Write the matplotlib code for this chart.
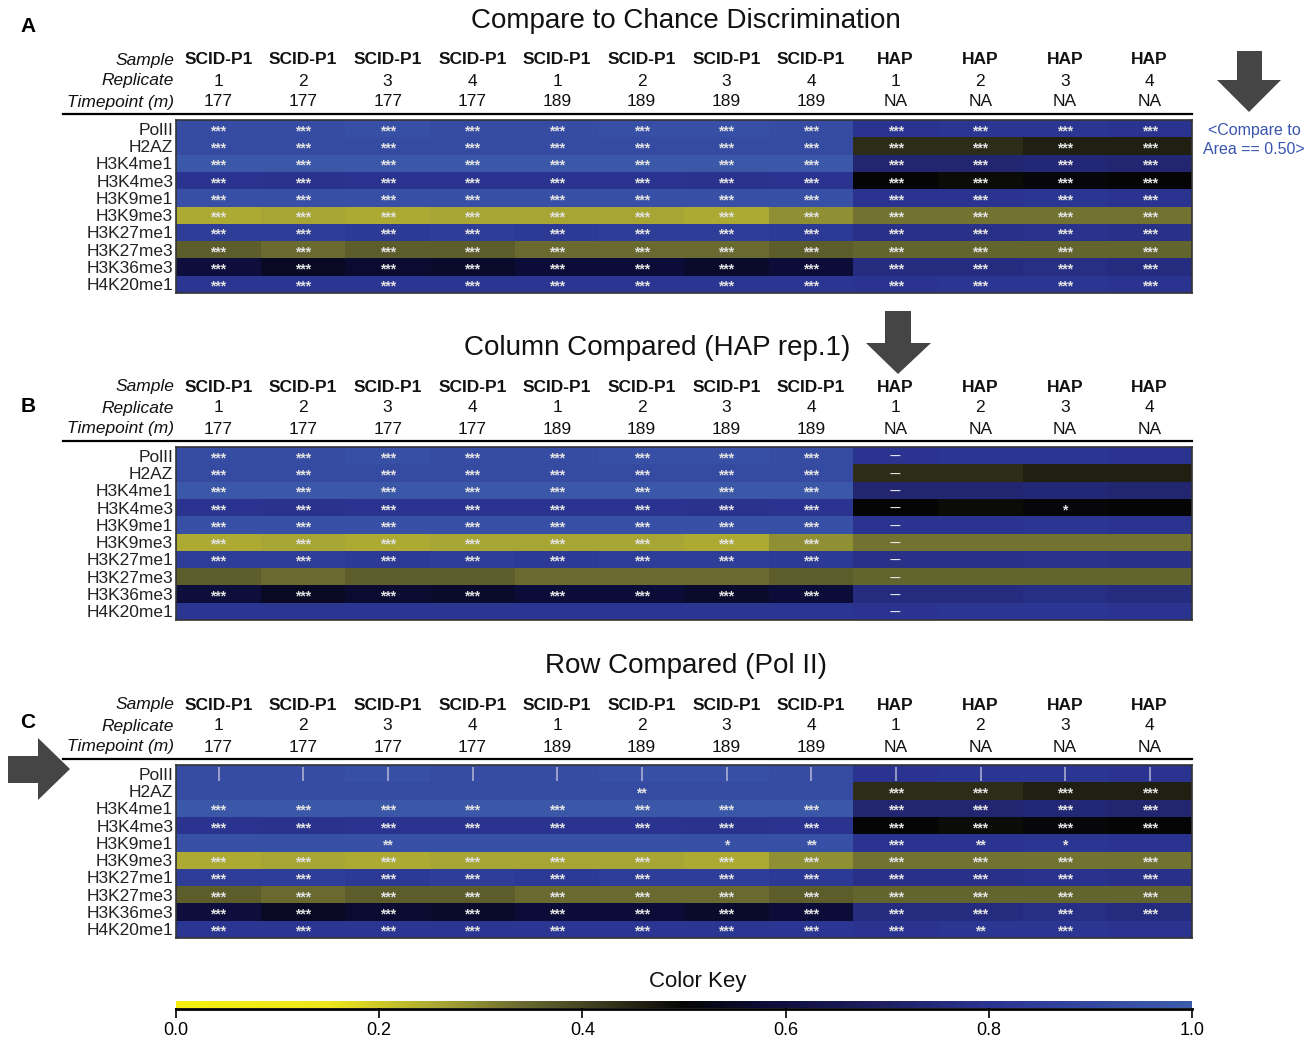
import numpy as np
import matplotlib
matplotlib.use("Agg")
import matplotlib.pyplot as plt
from matplotlib.colors import LinearSegmentedColormap
from matplotlib.patches import Polygon
from matplotlib.lines import Line2D
import matplotlib.transforms as mtransforms

plt.rcParams['font.family'] = ['Liberation Sans', 'DejaVu Sans']

# ---- data ----
marks = ['PolII', 'H2AZ', 'H3K4me1', 'H3K4me3', 'H3K9me1', 'H3K9me3',
         'H3K27me1', 'H3K27me3', 'H3K36me3', 'H4K20me1']
samples = ['SCID-P1'] * 8 + ['HAP'] * 4
replicates = ['1', '2', '3', '4', '1', '2', '3', '4', '1', '2', '3', '4']
timepoints = ['177'] * 4 + ['189'] * 4 + ['NA'] * 4

# discrimination area per mark (rows) and sample (columns)
area = np.array([
    [0.92, 0.92, 0.93, 0.92, 0.92, 0.93, 0.93, 0.92, 0.80, 0.81, 0.81, 0.80],
    [0.91, 0.91, 0.91, 0.91, 0.91, 0.91, 0.91, 0.91, 0.44, 0.44, 0.46, 0.46],
    [0.97, 0.97, 0.97, 0.97, 0.97, 0.97, 0.97, 0.97, 0.73, 0.73, 0.74, 0.73],
    [0.80, 0.79, 0.80, 0.80, 0.80, 0.80, 0.79, 0.80, 0.50, 0.49, 0.51, 0.50],
    [0.93, 0.93, 0.93, 0.93, 0.93, 0.93, 0.93, 0.93, 0.80, 0.80, 0.81, 0.80],
    [0.25, 0.26, 0.25, 0.26, 0.26, 0.26, 0.25, 0.29, 0.33, 0.33, 0.33, 0.33],
    [0.84, 0.84, 0.83, 0.84, 0.83, 0.84, 0.84, 0.83, 0.78, 0.78, 0.79, 0.78],
    [0.36, 0.34, 0.36, 0.36, 0.34, 0.34, 0.34, 0.36, 0.35, 0.35, 0.35, 0.35],
    [0.59, 0.55, 0.57, 0.56, 0.58, 0.58, 0.56, 0.58, 0.76, 0.76, 0.77, 0.76],
    [0.81, 0.81, 0.81, 0.81, 0.81, 0.81, 0.81, 0.81, 0.80, 0.81, 0.81, 0.80],
])

s3 = '***'
annot_chance = [[s3] * 12 for _ in marks]

annot_column = [
    [s3] * 8 + ['--', '', '', ''],
    [s3] * 8 + ['--', '', '', ''],
    [s3] * 8 + ['--', '', '', ''],
    [s3] * 8 + ['--', '', '*', ''],
    [s3] * 8 + ['--', '', '', ''],
    [s3] * 8 + ['--', '', '', ''],
    [s3] * 8 + ['--', '', '', ''],
    [''] * 8 + ['--', '', '', ''],
    [s3] * 8 + ['--', '', '', ''],
    [''] * 8 + ['--', '', '', ''],
]

annot_row = [
    ['|'] * 12,
    ['', '', '', '', '', '**', '', '', s3, s3, s3, s3],
    [s3] * 12,
    [s3] * 12,
    ['', '', '**', '', '', '', '*', '**', s3, '**', '*', ''],
    [s3] * 12,
    [s3] * 12,
    [s3] * 12,
    [s3] * 12,
    [s3] * 8 + [s3, '**', s3, ''],
]

cmap = LinearSegmentedColormap.from_list('key', [
    (0.00, '#f5ee10'), (0.15, '#eee61c'), (0.26, '#a6a535'),
    (0.34, '#6a6a30'), (0.44, '#2c2c18'), (0.50, '#050505'),
    (0.58, '#0c0c38'), (0.70, '#1e2064'), (0.80, '#2a3490'),
    (0.90, '#3448a0'), (1.00, '#3c5cab')])

W, H = 1314, 1037
fig = plt.figure(figsize=(W / 100, H / 100), dpi=100)


def fx(x):
    return x / W


def fy(y):
    return 1 - y / H


def panel(top, title, title_x, annot, letter):
    ax = fig.add_axes([fx(176), fy(top + 173), (1192 - 176) / W, 173 / H])
    mesh = ax.pcolormesh(area, cmap=cmap, vmin=0, vmax=1)
    ax.set_xlim(0, 12)
    ax.set_ylim(len(marks), 0)
    ax.set_xticks([])
    ax.set_yticks(np.arange(len(marks)) + 0.5)
    ax.set_yticklabels(marks, fontsize=12.5, color='#222222')
    ax.tick_params(axis='y', length=0, pad=2)
    for sp in ax.spines.values():
        sp.set_color('#333333')
        sp.set_linewidth(1.2)

    for i in range(len(marks)):
        for j in range(12):
            t = annot[i][j]
            if not t:
                continue
            if t == '|':
                ax.text(j + 0.5, i + 0.5, t, ha='center', va='center',
                        fontsize=11, color='#d0d0e0')
            elif t == '--':
                ax.text(j + 0.5, i + 0.6, '\u2013\u2013', ha='center',
                        va='center', fontsize=7.5, fontweight='bold',
                        color='#eeeeee')
            else:
                ax.text(j + 0.5, i + 0.64, t, ha='center', va='center',
                        fontsize=10, fontweight='bold', color='#e2e2e2')

    # header rows above the heatmap
    tr = mtransforms.blended_transform_factory(ax.transData, fig.transFigure)
    rows = [('Sample', samples, top - 60, True),
            ('Replicate', replicates, top - 39, False),
            ('Timepoint (m)', timepoints, top - 18, False)]
    for name, vals, y, bold in rows:
        fig.text(fx(174), fy(y), name, ha='right', va='center',
                 fontsize=12.5, style='italic', color='#111111')
        for j, v in enumerate(vals):
            ax.text(j + 0.5, fy(y), v, transform=tr, ha='center', va='center',
                    fontsize=12.5, fontweight='bold' if bold else 'normal',
                    color='#111111')
    fig.add_artist(Line2D([fx(63), fx(1192)], [fy(top - 6), fy(top - 6)],
                          color='black', lw=1.6))
    fig.text(fx(title_x), fy(top - 99), title, ha='center', va='center',
             fontsize=20, color='#111111')
    fig.text(fx(28), fy(letter[1]), letter[0], ha='center', va='center',
             fontsize=15, fontweight='bold')
    return mesh


def arrow(pts):
    fig.add_artist(Polygon([(fx(x), fy(y)) for x, y in pts], closed=True,
                           transform=fig.transFigure, color='#454545', lw=0))


mesh = panel(120, 'Compare to Chance Discrimination', 686, annot_chance, ('A', 27))
panel(447, 'Column Compared (HAP rep.1)', 657, annot_column, ('B', 407))
panel(765, 'Row Compared (Pol II)', 686, annot_row, ('C', 723))

# arrows
arrow([(1237, 51), (1262, 51), (1262, 80), (1281, 80), (1249, 112),
       (1217, 80), (1237, 80)])
arrow([(885, 311), (911, 311), (911, 343), (931, 343), (898, 374),
       (866, 343), (885, 343)])
arrow([(8, 756), (38, 756), (38, 738), (70, 769), (38, 800),
       (38, 783), (8, 783)])

fig.text(fx(1254), fy(140), '<Compare to\nArea == 0.50>', ha='center',
         va='center', fontsize=11.5, color='#3a55b0', linespacing=1.25)

# color key
cax = fig.add_axes([fx(176), fy(1008), (1192 - 176) / W, 7 / H])
cb = fig.colorbar(mesh, cax=cax, orientation='horizontal')
cb.outline.set_visible(False)
cb.set_ticks([0, 0.2, 0.4, 0.6, 0.8, 1.0])
cb.set_ticklabels(['0.0', '0.2', '0.4', '0.6', '0.8', '1.0'])
cax.tick_params(axis='x', length=7, width=1.2, color='black', labelsize=13,
                pad=3)
fig.add_artist(Line2D([fx(176), fx(1192)], [fy(1009), fy(1009)],
                      color='black', lw=2))
fig.text(fx(698), fy(981), 'Color Key', ha='center', va='center',
         fontsize=16, color='#111111')

plt.savefig('out.png', dpi=100)
